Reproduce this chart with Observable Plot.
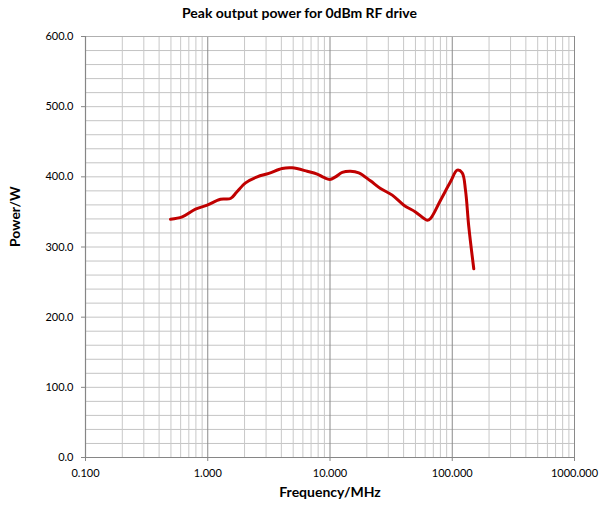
<!DOCTYPE html>
<html>
<head>
<meta charset="utf-8">
<script src="https://cdn.jsdelivr.net/npm/d3@7"></script>
<script src="https://cdn.jsdelivr.net/npm/@observablehq/plot@0.6"></script>
<style>
  body { margin: 0; background: #fff; }
  #wrap { position: relative; width: 599px; height: 509px; font-family: Lato, "Open Sans", sans-serif; }
  #title { position: absolute; top: 4px; left: 0; width: 599px; text-align: center; font-weight: bold; font-size: 14px; color: #000; }
  #chart { position: absolute; top: 0; left: 0; }
</style>
</head>
<body>
<div id="wrap">
  <div id="chart"></div>
  <div id="title">Peak output power for 0dBm RF drive</div>
</div>
<script>
const freq  = [0.496, 0.618, 0.794, 0.99, 1.27, 1.535, 1.72, 2.04, 2.54, 3.16, 4.06, 4.91, 6.51, 7.86, 8.9, 9.96, 11.1, 12.6, 14.7, 17.2, 21.4, 25.9, 32.3, 40.2, 50.0, 62.4, 66.4, 80.2, 96.7, 109.8, 120.6, 128.3, 136.6, 150];
const power = [339.6, 342.9, 353.9, 359.6, 368.1, 369.1, 378, 391.4, 400, 404.9, 412, 412.9, 408, 403.9, 399.1, 396.3, 400, 406.3, 408, 405.7, 394.3, 383.4, 373.9, 359.6, 350, 338.1, 340.6, 366.7, 392.9, 409.6, 405.7, 381, 328.6, 269];
const xTicks = [0.1, 1, 10, 100, 1000];
const yTicks = [0, 100, 200, 300, 400, 500, 600];
const yMinorStep = 20;

const data = freq.map((f, i) => ({f, p: power[i]}));
const minorX = [];
xTicks.slice(0, -1).forEach(d => { for (let k = 2; k <= 9; k++) minorX.push(d * k); });
const gridY = d3.range(0, 601, yMinorStep);

const chart = Plot.plot({
  width: 599,
  height: 509,
  marginTop: 36,
  marginLeft: 85,
  marginRight: 25,
  marginBottom: 52,
  style: {fontFamily: "Lato, 'Open Sans', sans-serif", fontSize: "11px", color: "#000", background: "#fff"},
  x: {type: "log", domain: [0.1, 1000]},
  y: {domain: [0, 600]},
  marks: [
    Plot.ruleY(gridY, {stroke: "#c4c4c4", strokeWidth: 1, strokeOpacity: 1}),
    Plot.ruleX(minorX, {stroke: "#c8c8c8", strokeWidth: 1, strokeOpacity: 1}),
    Plot.ruleX(xTicks, {stroke: "#8a8a8a", strokeWidth: 1, strokeOpacity: 1}),
    Plot.ruleY([600], {stroke: "#b0b0b0"}),
    Plot.axisX({ticks: xTicks, tickFormat: d3.format(".3f"), tickSize: 4, tickPadding: 8, stroke: "#868686", label: null, fontSize: 11}),
    Plot.axisY({ticks: yTicks, tickFormat: d3.format(".1f"), tickSize: 4, tickPadding: 8, stroke: "#868686", label: null, fontSize: 11}),
    Plot.ruleY([0], {stroke: "#868686", strokeWidth: 1.2}),
    Plot.ruleX([0.1], {stroke: "#868686", strokeWidth: 1.2}),
    Plot.line(data, {x: "f", y: "p", stroke: "#c00000", strokeWidth: 3, curve: "catmull-rom"}),
    Plot.text(["Frequency/MHz"], {frameAnchor: "bottom", dy: 39, text: d => d, fontWeight: "bold", fontSize: 14}),
    Plot.text(["Power/W"], {frameAnchor: "left", dx: -70, rotate: -90, text: d => d, fontWeight: "bold", fontSize: 14})
  ]
});
document.getElementById("chart").appendChild(chart);
</script>
</body>
</html>
